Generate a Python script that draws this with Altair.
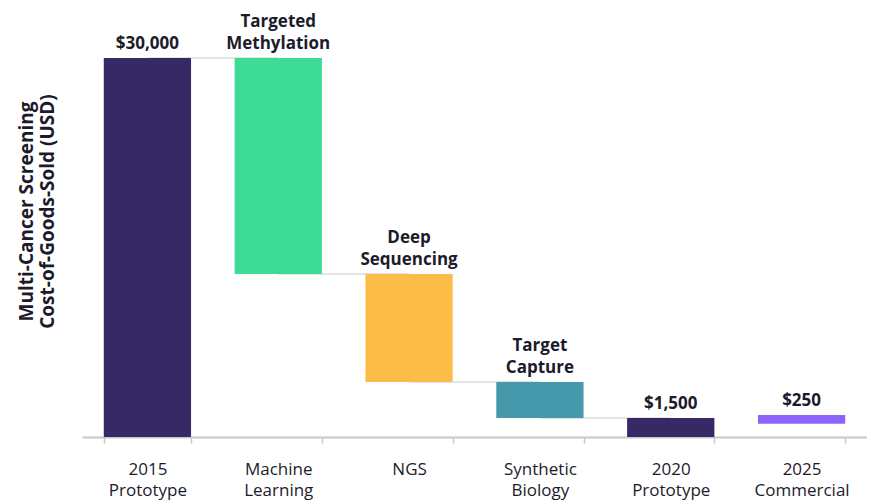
import altair as alt
import pandas as pd

categories = ["2015 Prototype", "Machine Learning", "NGS", "Synthetic Biology", "2020 Prototype", "2025 Commercial"]
starts = [0, 30000, 12900, 4350, 0, 1750]
ends = [30000, 12900, 4350, 1500, 1500, 1050]
bar_labels = ["$30,000", "Targeted\nMethylation", "Deep\nSequencing", "Target\nCapture", "$1,500", "$250"]
colors = ["#372866", "#3ddb95", "#fcbd48", "#4699ab", "#372866", "#8c64fb"]
connector_from = ["2015 Prototype", "Machine Learning", "NGS", "Synthetic Biology"]
connector_to = ["Machine Learning", "NGS", "Synthetic Biology", "2020 Prototype"]
connector_value = [30000, 12900, 4350, 1500]

FONT = "Open Sans"
TEXT = "#1c1b2b"

df = pd.DataFrame({
    "cat": categories,
    "start": starts,
    "end": ends,
    "label": bar_labels,
    "color": colors,
})
df["top"] = df[["start", "end"]].max(axis=1)
split = df["label"].str.split("\n")
df["last_line"] = split.str[-1]
df["first_line"] = split.apply(lambda p: p[0] if len(p) > 1 else "")

conn = pd.DataFrame({"cat": connector_from, "cat2": connector_to, "v": connector_value})

xscale = alt.Scale(domain=categories, paddingInner=0.333, paddingOuter=0.1665)
yscale = alt.Scale(domain=[0, 33800], nice=False)

x_axis = alt.Axis(
    title=None,
    labelAngle=0,
    labelExpr="split(datum.label, ' ')",
    labelFont=FONT,
    labelFontSize=17,
    labelColor=TEXT,
    labelLineHeight=21,
    labelPadding=18,
    labelBaseline="top",
    tickBand="extent",
    tickColor="#c8c8c8",
    tickSize=6,
    tickWidth=1.5,
    domainColor="#c8c8c8",
    domainWidth=2,
)

y_axis = alt.Axis(
    title=["Multi-Cancer Screening", "Cost-of-Goods-Sold (USD)"],
    titleFont=FONT,
    titleFontSize=19,
    titleFontWeight="bold",
    titleColor=TEXT,
    titleAngle=270,
    titleAlign="center",
    titleBaseline="middle",
    titleLineHeight=21,
    titleX=-56,
    titleY=201,
    labels=False,
    ticks=False,
    domain=False,
    grid=False,
)

connectors = alt.Chart(conn).mark_rule(color="#dcdcdc", strokeWidth=1.5).encode(
    x=alt.X("cat:N", scale=xscale, axis=x_axis, sort=categories),
    x2="cat2:N",
    y=alt.Y("v:Q", scale=yscale, axis=y_axis),
)

bars = alt.Chart(df).mark_bar(cornerRadius=0).encode(
    x=alt.X("cat:N", scale=xscale, sort=categories),
    y=alt.Y("start:Q", scale=yscale),
    y2="end:Q",
    color=alt.Color("color:N", scale=None),
)

text_style = dict(font=FONT, fontSize=17, fontWeight="bold", color=TEXT, baseline="alphabetic")

last_text = alt.Chart(df).mark_text(dy=-9, **text_style).encode(
    x=alt.X("cat:N", scale=xscale, sort=categories),
    y=alt.Y("top:Q", scale=yscale),
    text="last_line:N",
)

first_text = alt.Chart(df).mark_text(dy=-31, **text_style).encode(
    x=alt.X("cat:N", scale=xscale, sort=categories),
    y=alt.Y("top:Q", scale=yscale),
    text="first_line:N",
)

chart = alt.layer(connectors, bars, last_text, first_text).properties(
    width=785,
    height=427,
    autosize=alt.AutoSizeParams(type="none"),
    padding={"left": 74, "top": 2, "right": 0, "bottom": 66},
).configure_view(stroke=None)

chart.save("out.html", embed_options={"renderer": "svg", "actions": False})
